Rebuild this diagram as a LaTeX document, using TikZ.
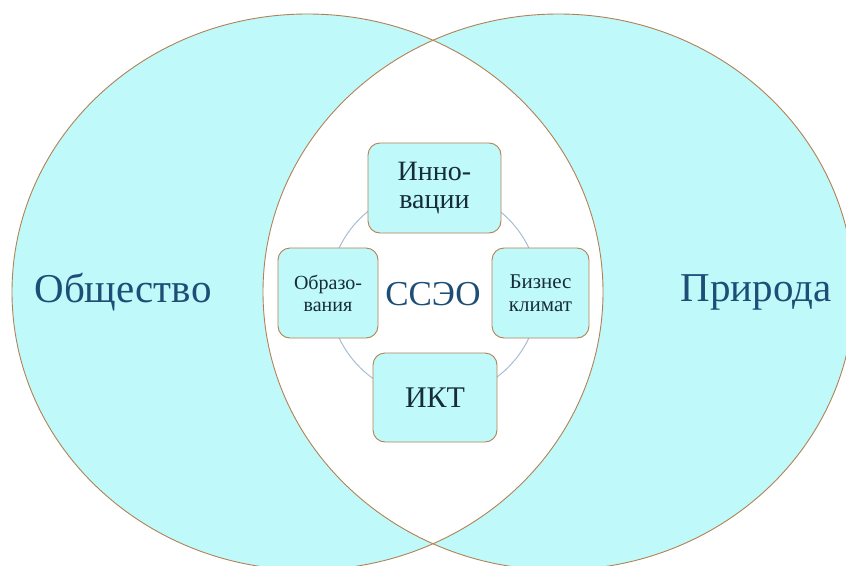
\documentclass[tikz,border=0pt]{standalone}
\usepackage{fontspec}
\setmainfont{Liberation Serif}
\definecolor{fon}{RGB}{191,249,250}
\definecolor{kant}{RGB}{178,130,86}
\definecolor{sinij}{RGB}{30,78,118}
\definecolor{tjomnyj}{RGB}{22,44,56}
\definecolor{krug}{RGB}{168,190,212}

\begin{document}
\begin{tikzpicture}[x=1pt,y=-1pt,
    oval/.style={x radius=295.5pt,y radius=278pt},
    blok/.style={draw=kant,fill=fon,line width=0.9pt,rounded corners=12pt,
        align=center,text=tjomnyj,inner sep=0pt,minimum height=90pt}]
        \clip (0,0) rectangle (846,565);
        \fill[white] (0,0) rectangle (846,565);
        \fill[fon] (307.5,292) ellipse [oval];
        \fill[fon] (558.5,292) ellipse [oval];
        \begin{scope}
            \clip (307.5,292) ellipse [oval];
            \fill[white] (558.5,292) ellipse [oval];
        \end{scope}
        \draw[kant,line width=0.9pt] (307.5,292) ellipse [oval];
        \draw[kant,line width=0.9pt] (558.5,292) ellipse [oval];
        \draw[krug,line width=1pt] (434,293) circle [radius=105pt];
        \node[text=sinij,font=\fontsize{41}{41}\selectfont] (obshchestvo) at (123,292) {Общество};
        \node[text=sinij,font=\fontsize{41}{41}\selectfont] (priroda) at (756,292) {Природа};
        \node[blok,minimum width=133pt,font=\fontsize{28}{28}\selectfont] (innov) at (434.5,188) {Инно-\\вации};
        \node[blok,minimum width=100pt,font=\fontsize{20}{22}\selectfont] (obraz) at (328,293) {Образо-\\вания};
        \node[blok,minimum width=97pt,font=\fontsize{21}{23}\selectfont] (biznes) at (540.5,293) {Бизнес\\климат};
        \node[blok,minimum width=124pt,minimum height=89pt,font=\fontsize{30}{30}\selectfont] (ikt) at (435,397.5) {ИКТ};
        \node[text=sinij,font=\fontsize{35}{35}\selectfont] (sseo) at (433,294) {ССЭО};
    \end{tikzpicture}
\end{document}
